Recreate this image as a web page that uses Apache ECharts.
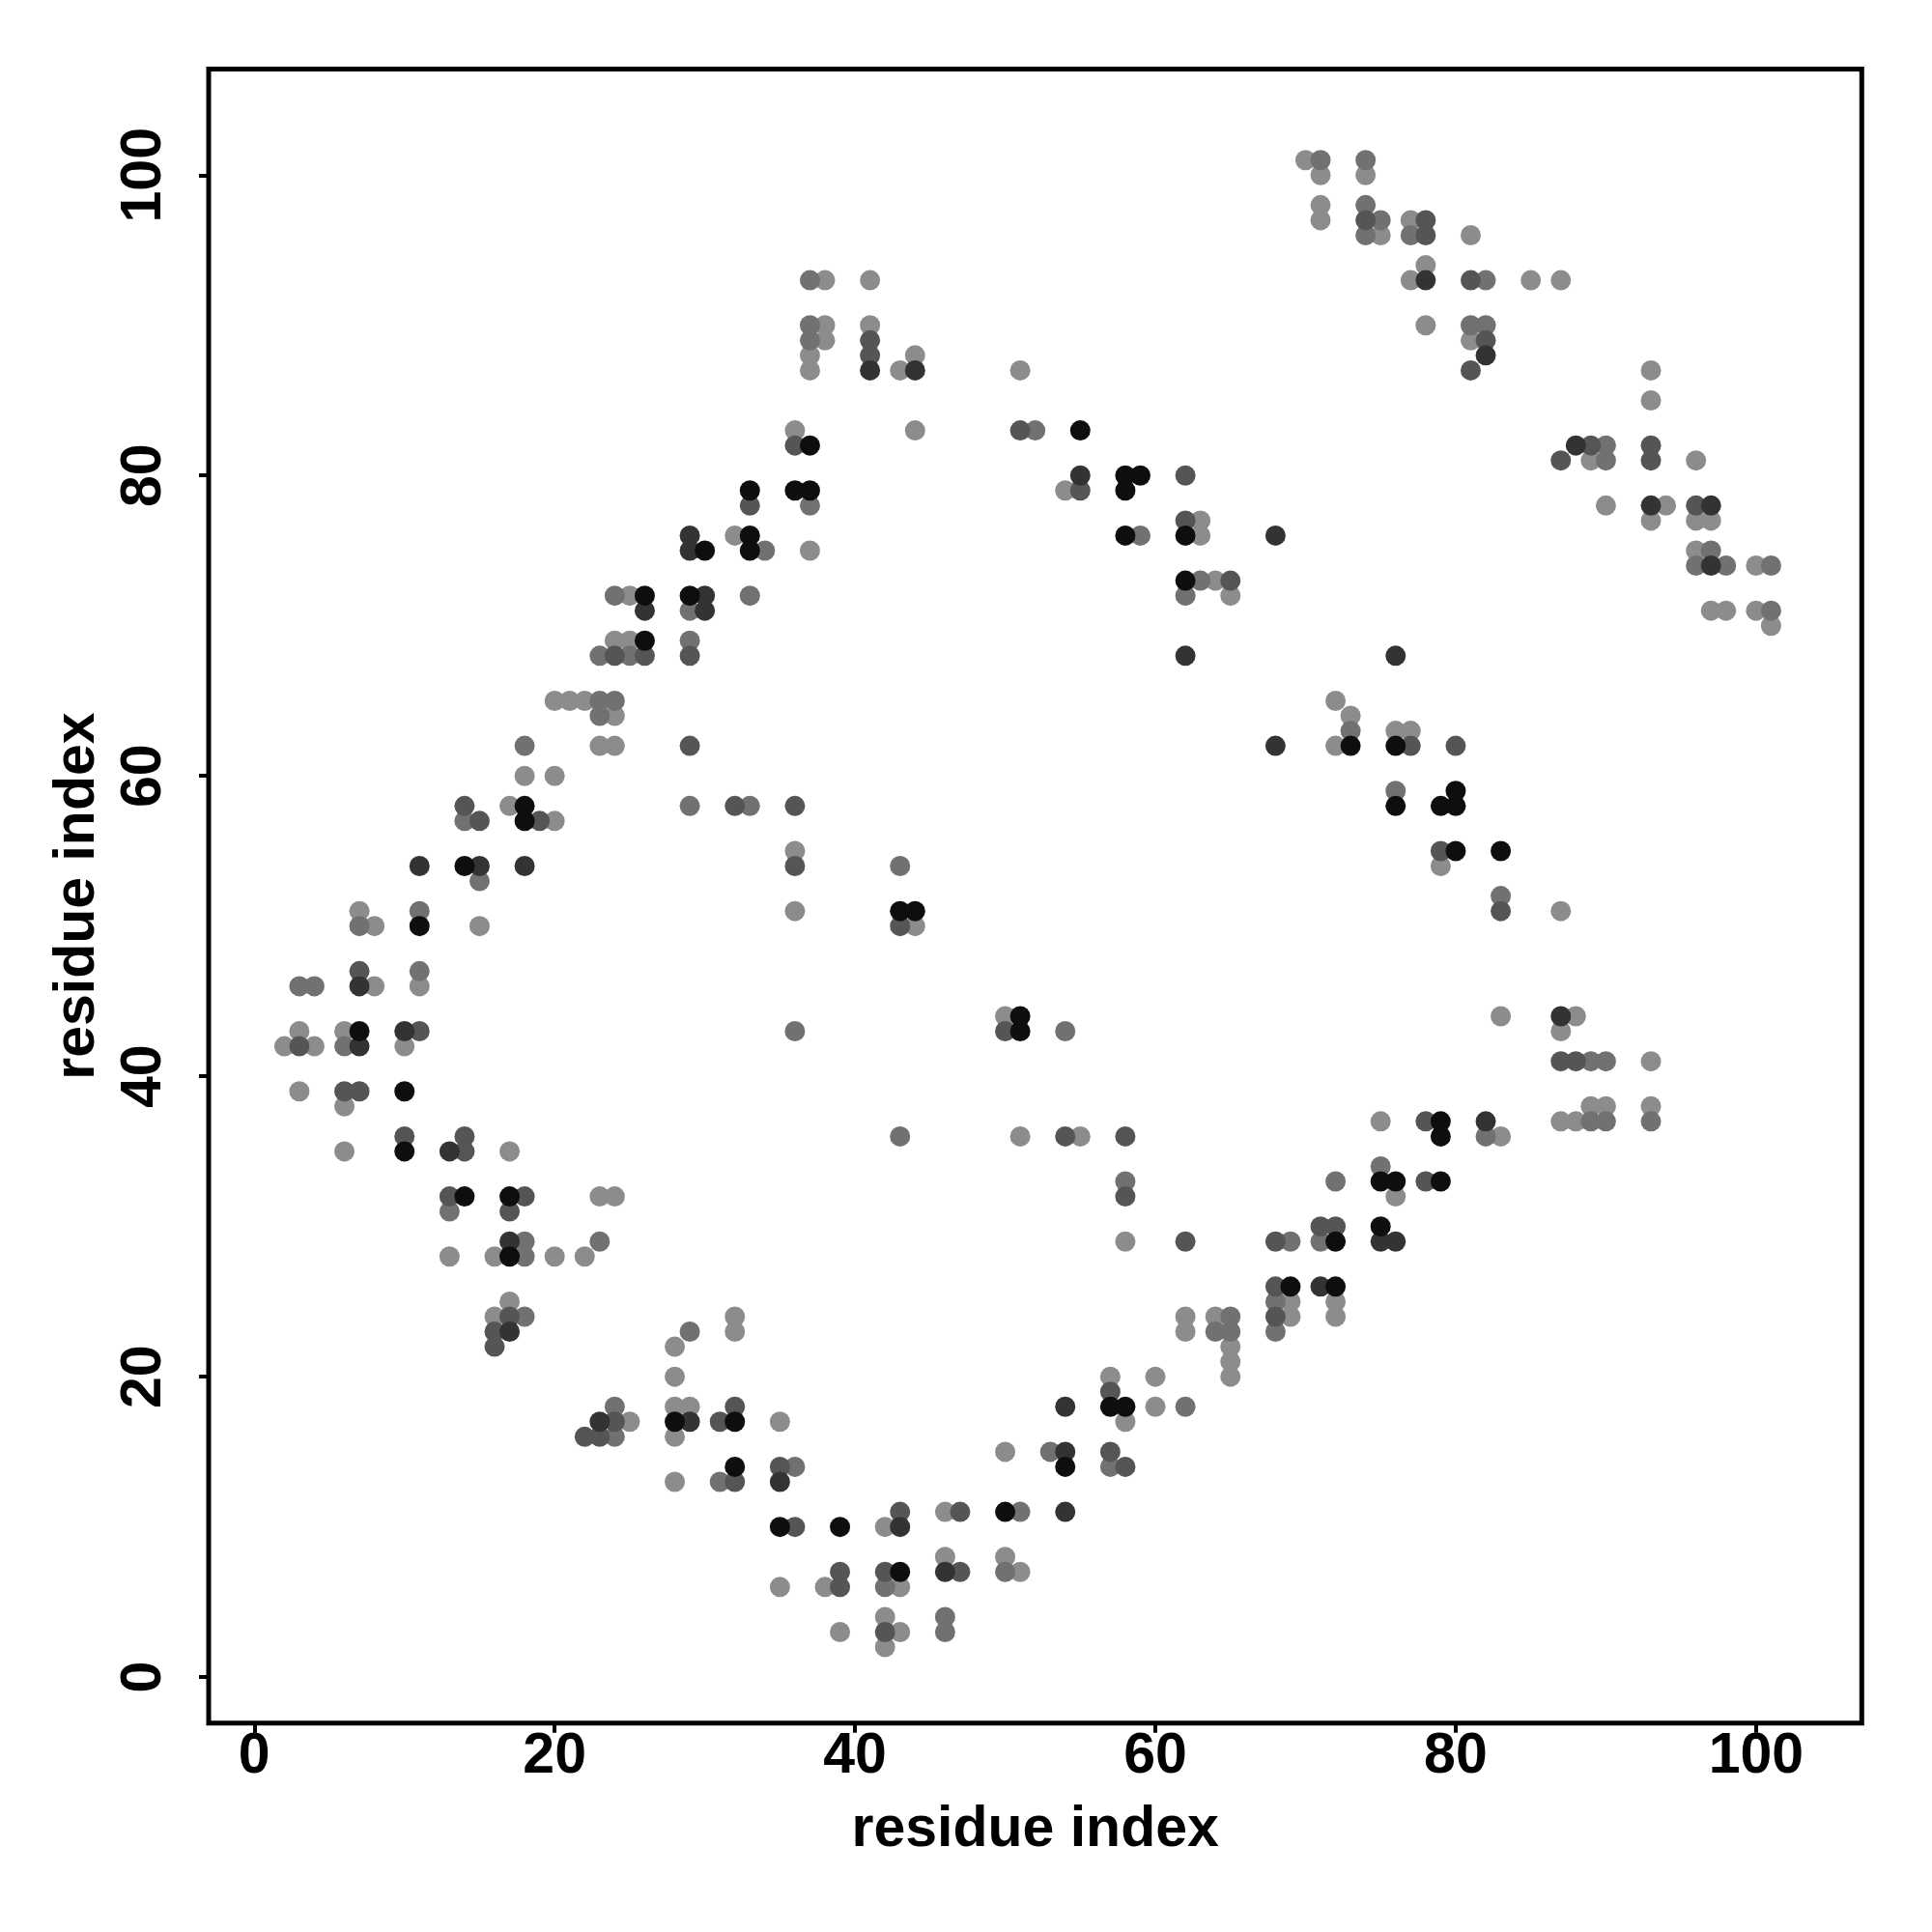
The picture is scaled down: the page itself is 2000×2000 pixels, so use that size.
<!DOCTYPE html>
<html>
<head>
<meta charset="utf-8">
<script src="https://cdn.jsdelivr.net/npm/echarts@6/dist/echarts.min.js"></script>
<style>html,body{margin:0;padding:0;background:#fff}#c{width:2000px;height:2000px}</style>
</head>
<body>
<div id="c"></div>
<script>
// Tick labels
const xTicks = [0, 20, 40, 60, 80, 100];
const yTicks = [0, 20, 40, 60, 80, 100];

// Contacts [i, j] grouped by grey level (lightest to darkest)
const lightPts = [
[7,51],[8,50],[15,50],[8,46],[11,46],[3,43],[2,42],[4,42],[6,43],[10,42],[3,39],[6,38],[6,35],[17,35],[23,32],[24,32],[13,28],[16,28],[20,28],[22,28],[17,25],
[16,24],[25,17],
[38,93],[41,93],[38,90],[41,90],[38,89],[37,88],[44,88],[37,87],[43,87],[36,83],[44,83],[32,76],[37,75],[25,72],[24,69],[25,69],[20,65],[21,65],[22,65],[24,64],[23,62],[24,62],[18,60],[20,60],[17,58],[20,57],[36,55],
[51,87],[54,79],[63,77],[63,76],[64,73],[65,72],[72,65],[73,64],[76,63],[77,63],[72,62],[79,54],
[70,101],[71,100],[74,100],[71,98],[71,97],[77,97],[75,96],[81,96],[78,94],[77,93],[85,93],[87,93],[78,90],[81,89],[93,87],[93,85],[89,81],[96,81],[90,78],[94,78],[93,77],[96,77],[97,77],[96,75],[100,74],[97,71],[98,71],[100,71],[101,70],
[87,51],[83,44],[88,44],[87,43],[93,41],[89,38],[90,38],[93,38],[87,37],[88,37],[75,37],[83,36],[76,32],[69,25],[72,25],[69,24],[72,24],
[36,51],[44,50],[50,44],[51,36],[32,24],[32,23],[28,22],
[28,20],[28,18],[29,18],[28,16],[35,17],[28,13],[42,10],[46,11],[50,15],[35,6],[38,6],[43,6],[46,8],[50,8],[51,7],[39,3],[42,4],[43,3],[42,2],
[55,36],[58,29],[62,24],[62,23],[64,24],[65,22],[65,21],[65,20],[57,20],[58,17],[60,20],[60,18]
];
const midPts = [
[15,53],[7,50],[11,51],[3,46],[4,46],[11,47],[6,42],[13,31],[18,29],[18,28],[23,29],
[18,24],[24,18],[24,16],
[37,93],[37,90],[37,89],[37,78],[34,75],[24,72],[33,72],[29,71],[29,69],[23,68],[25,68],[23,65],[24,65],[23,64],[18,62],[29,58],[33,58],[14,57],[43,54],
[52,83],[59,76],[63,73],[62,72],[73,63],[76,59],
[71,101],[74,101],[74,98],[75,97],[74,96],[77,96],[82,93],[81,90],[82,90],[90,82],[90,81],[97,75],[96,74],[98,74],[101,74],[101,71],
[83,52],[89,41],[90,41],[89,37],[90,37],[93,37],[82,36],[75,34],[72,33],[69,29],[71,29],[68,25],[68,23],
[36,43],[54,43],[43,36],[29,23],
[31,13],[36,14],[51,11],[53,15],[42,6],[50,7],[46,4],[46,3],
[58,33],[65,24],[64,23],[65,23],[62,18],[57,14]
];
const darkPts = [
[7,47],[3,42],[11,43],[6,39],[7,39],[10,36],[14,36],[14,35],[13,32],[18,32],[17,31],
[17,24],[16,23],[16,22],[24,17],[22,16],[23,16],
[41,89],[41,88],[36,82],[33,78],[24,68],[26,68],[29,68],[29,62],[14,58],[32,58],[36,58],[15,57],[19,57],[36,54],
[51,83],[62,80],[55,79],[62,77],[65,73],[77,62],[80,62],[79,55],
[74,97],[78,97],[78,96],[81,93],[82,89],[81,87],[89,82],[93,82],[87,81],[93,81],[96,78],
[83,51],[87,41],[88,41],[78,37],[78,33],[71,30],[72,30],[68,29],[68,26],[68,24],
[43,50],[50,43],[54,36],
[32,18],[31,17],[32,13],[35,14],[36,10],[43,11],[47,11],[39,7],[39,6],[42,7],[47,7],[42,3],
[58,36],[58,32],[62,29],[57,19],[57,15],[58,14]
];
const darkerPts = [
[11,54],[15,54],[18,54],[7,46],[7,42],[10,43],[13,35],[17,29],
[17,23],[23,17],
[41,87],[44,87],[29,76],[29,75],[30,72],[26,71],[30,71],
[55,80],[68,76],[62,68],[76,68],[68,62],
[78,93],[82,88],[88,82],[93,78],[97,78],[97,74],
[87,44],[82,37],[75,29],[76,29],[71,26],
[29,17],[35,13],[43,10],[54,11],[54,15],[54,18],[46,7]
];
const blackPts = [
[14,54],[11,50],[7,43],[10,39],[10,35],[14,32],[17,32],[17,28],
[37,82],[33,79],[36,79],[37,79],[33,76],[30,75],[33,75],[26,72],[29,72],[26,69],[18,58],[18,57],
[55,83],[58,80],[59,80],[58,79],[58,76],[62,76],[62,73],[73,62],[76,62],[80,59],[76,58],[79,58],[80,58],[80,55],[83,55],
[79,37],[79,36],[75,33],[76,33],[79,33],[75,30],[72,29],[69,26],[72,26],
[43,51],[44,51],[51,44],[51,43],
[28,17],[32,17],[32,14],[35,10],[39,10],[43,7],[50,11],[54,14],
[57,18],[58,18]
];

const groups = [
  {name:'light', data:lightPts, color:'#8c8c8c'},
  {name:'mid', data:midPts, color:'#717171'},
  {name:'dark', data:darkPts, color:'#555555'},
  {name:'darker', data:darkerPts, color:'#333333'},
  {name:'black', data:blackPts, color:'#0e0e0e'}
];

const FONT = '"Liberation Sans", Arial, Helvetica, sans-serif';
const chart = echarts.init(document.getElementById('c'), null, {renderer:'canvas'});
chart.setOption({
  animation:false,
  backgroundColor:'#ffffff',
  grid:{left:216, top:71.5, right:72.7, bottom:216.3, show:true, borderColor:'#000', borderWidth:5, backgroundColor:'transparent', containLabel:false},
  xAxis:{
    type:'value', min:-3.04, max:107.04,
    axisLine:{show:false, onZero:false},
    splitLine:{show:false},
    axisTick:{show:true, length:10, lineStyle:{color:'#000', width:4}, customValues:xTicks},
    axisLabel:{customValues:xTicks, fontSize:59, fontWeight:'bold', color:'#000', fontFamily:FONT, margin:6},
    name:'residue index', nameLocation:'middle', nameGap:82,
    nameTextStyle:{fontSize:59, fontWeight:'bold', color:'#000', fontFamily:FONT}
  },
  yAxis:{
    type:'value', min:-3.06, max:107.06,
    axisLine:{show:false, onZero:false},
    splitLine:{show:false},
    axisTick:{show:true, length:10, lineStyle:{color:'#000', width:4}, customValues:yTicks},
    axisLabel:{customValues:yTicks, rotate:90, fontSize:59, fontWeight:'bold', color:'#000', fontFamily:FONT, margin:37},
    name:'residue index', nameLocation:'middle', nameGap:106, nameRotate:90,
    nameTextStyle:{fontSize:59, fontWeight:'bold', color:'#000', fontFamily:FONT}
  },
  series: groups.map(g => ({
    name:g.name, type:'scatter', data:g.data, symbol:'circle', symbolSize:21,
    itemStyle:{color:g.color, opacity:1}, silent:true
  }))
});
</script>
</body>
</html>
